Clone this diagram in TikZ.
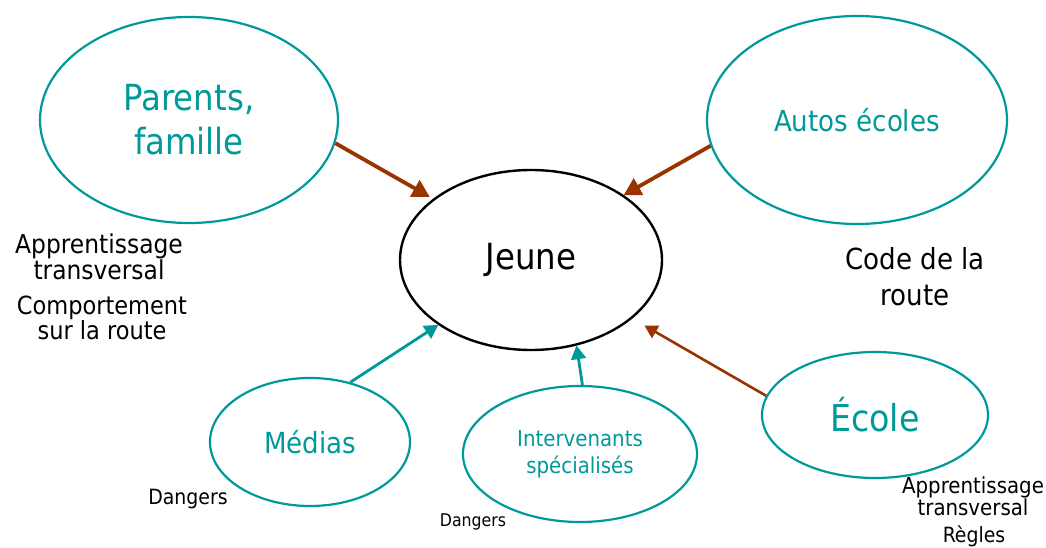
\documentclass[tikz,border=0pt]{standalone}
\usepackage{fontspec}
\setmainfont{DejaVu Sans Condensed}
\usetikzlibrary{arrows,shapes.geometric}
\definecolor{sarcelle}{RGB}{0,153,153}
\definecolor{brique}{RGB}{153,51,0}
\tikzset{
  bulle/.style={ellipse, draw=sarcelle, line width=2.2pt, inner sep=0pt, text=sarcelle, align=center},
  fleche/.style={draw=brique, line width=3.8pt, -triangle 60},
  fleche fine/.style={draw=sarcelle, line width=2.8pt, -triangle 60},
  notes/.style={align=center, text=black}
}

\begin{document}
\begin{tikzpicture}[x=1pt,y=-1pt]
\useasboundingbox (0,0) rectangle (1046,548);

% les bulles
\node[bulle, minimum width=298pt, minimum height=206pt, font=\fontsize{36}{44}\selectfont] (parents) at (189,120) {Parents,\\famille};
\node[bulle, minimum width=300pt, minimum height=208pt, font=\fontsize{29}{36}\selectfont] (autos) at (857,120) {Autos écoles};
\node[ellipse, draw, line width=2.4pt, inner sep=0pt, minimum width=262pt, minimum height=180pt, font=\fontsize{36}{43}\selectfont] (jeune) at (531,260) {Jeune};
\node[bulle, minimum width=200pt, minimum height=128pt, font=\fontsize{29}{35}\selectfont] (medias) at (310,442) {Médias};
\node[bulle, minimum width=234pt, minimum height=136pt, font=\fontsize{22}{27}\selectfont] (interv) at (580,454) {Intervenants\\spécialisés};
\node[bulle, minimum width=226pt, minimum height=126pt, font=\fontsize{37}{44}\selectfont] (ecole) at (875,415) {École};

% les fleches
\draw[fleche, shorten >=4pt] (parents.-9) -- (jeune.148);
\draw[fleche] (autos.190) -- (jeune.35);
\draw[fleche, line width=2.6pt, shorten >=14pt] (ecole.170) -- (jeune.-30);
\draw[fleche fine] (medias.56) -- (jeune.-145);
\draw[fleche fine] (interv.88) -- (jeune.-62);

% les textes
\node[notes, font=\fontsize{26}{20}\selectfont] (appg) at (99,257) {Apprentissage\\transversal};
\node[notes, font=\fontsize{25}{25}\selectfont] (comp) at (102,318) {Comportement\\sur la route};
\node[notes, font=\fontsize{29}{36}\selectfont] (code) at (915,277) {Code de la\\route};
\node[notes, font=\fontsize{21}{24}\selectfont] (dang1) at (188,499) {Dangers};
\node[notes, font=\fontsize{17.5}{19}\selectfont] (dang2) at (473,522) {Dangers};
\node[notes, font=\fontsize{22}{19}\selectfont] (appd) at (973,496) {Apprentissage\\transversal};
\node[notes, font=\fontsize{21}{23}\selectfont] (regles) at (974,536) {Règles};
\end{tikzpicture}
\end{document}
